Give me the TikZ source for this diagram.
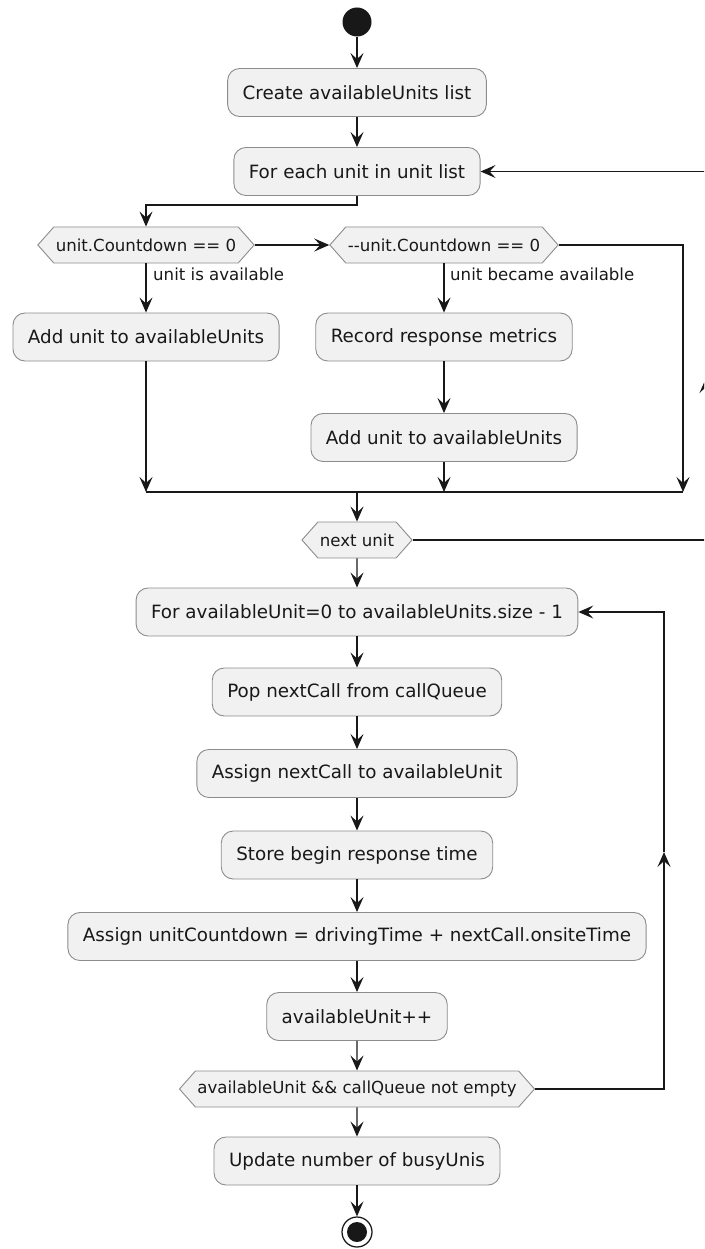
\documentclass[tikz,border=0pt]{standalone}
\usepackage{fontspec}
\setmainfont{DejaVu Sans}
\usetikzlibrary{arrows.meta,shapes.symbols,calc}

\definecolor{boxfill}{HTML}{F1F1F1}
\definecolor{boxline}{HTML}{8C8C8C}
\definecolor{ink}{HTML}{181818}

\begin{document}
\begin{tikzpicture}[
  x=1pt, y=-1pt,
  action/.style={rectangle, rounded corners=12pt, draw=boxline, fill=boxfill,
    line width=0.9pt, minimum height=48pt, inner xsep=15pt, text=ink,
    font=\fontsize{18.3}{22}\selectfont},
  decision/.style={signal, signal to=west and east, signal pointer angle=97,
    draw=boxline, fill=boxfill, line width=0.9pt, minimum height=36pt,
    inner xsep=2pt, inner ysep=0pt, text=ink, font=\fontsize{16.6}{20}\selectfont},
  flow/.style={draw=ink, line width=1.25pt, -{Stealth[length=15pt,width=13pt,inset=6pt]}},
  wire/.style={draw=ink, line width=1.25pt},
  lbl/.style={font=\fontsize{16.6}{20}\selectfont, anchor=west, inner sep=0pt, text=ink}
]
\useasboundingbox (0,0) rectangle (704,1249);
\clip (0,0) rectangle (704,1249);

% start / first loop
\node[circle, fill=ink, minimum size=29pt, inner sep=0pt] (start) at (357,22) {};
\node[action] (create) at (357,92.5) {Create availableUnits list};
\node[action] (foreach) at (357,171.5) {For each unit in unit list};

% countdown checks
\node[decision] (d1) at (146,245) {unit.Countdown == 0};
\node[decision] (d2) at (444,245) {{-}{-}unit.Countdown == 0};
\node[action] (add1) at (146,337) {Add unit to availableUnits};
\node[action] (record) at (444,337) {Record response metrics};
\node[action] (add2) at (444,437.5) {Add unit to availableUnits};
\node[lbl] (l1) at (153,274) {unit is available};
\node[lbl] (l2) at (450,274) {unit became available};

\coordinate (split) at (146,205);
\coordinate (m1) at (146,492);
\coordinate (m2) at (444,492);
\coordinate (m3) at (683,492);
\coordinate (mc) at (357,492);

\node[decision] (next) at (357,540) {next unit};

% dispatch loop
\node[action] (forav) at (357,612) {For availableUnit=0 to availableUnits.size - 1};
\node[action] (pop) at (357,692) {Pop nextCall from callQueue};
\node[action] (assign1) at (357,773.5) {Assign nextCall to availableUnit};
\node[action] (store) at (357,855) {Store begin response time};
\node[action] (assign2) at (357,936.5) {Assign unitCountdown = drivingTime + nextCall.onsiteTime};
\node[action] (inc) at (357,1016.5) {availableUnit++};
\node[decision] (d3) at (357,1089) {availableUnit \&\& callQueue not empty};
\node[action] (update) at (357,1161) {Update number of busyUnis};

% stop
\node[circle, draw=ink, line width=1.25pt, fill=white, minimum size=30pt, inner sep=0pt] (stop) at (357,1232) {};
\node[circle, fill=ink, minimum size=20pt, inner sep=0pt] (stopdot) at (stop) {};

% loop return points
\coordinate (oA) at (706,540);
\coordinate (oB) at (706,378);
\coordinate (oC) at (706,171.5);
\coordinate (iA) at (664,1089);
\coordinate (iB) at (664,852);
\coordinate (iC) at (664,612);

% connectors
\draw[flow] (start) -- (create);
\draw[flow] (create) -- (foreach);
\draw[flow] (foreach.south) |- (split) -- (d1.north);
\draw[flow] (d1.east) -- (d2.west);
\draw[flow] (d1.south) -- (add1.north);
\draw[flow] (d2.south) -- (record.north);
\draw[flow] (record) -- (add2);
\draw[flow] (add1.south) -- (m1);
\draw[flow] (add2.south) -- (m2);
\draw[flow] (d2.east) -| (m3);
\draw[wire] (m1) -- (m3);
\draw[flow] (mc) -- (next.north);
\draw[flow] (next.east) -- (oA) -- (oB);
\draw[flow] (oB) -- (oC) -- (foreach.east);

\draw[flow] (next) -- (forav);
\draw[flow] (forav) -- (pop);
\draw[flow] (pop) -- (assign1);
\draw[flow] (assign1) -- (store);
\draw[flow] (store) -- (assign2);
\draw[flow] (assign2) -- (inc);
\draw[flow] (inc) -- (d3);
\draw[flow] (d3) -- (update);
\draw[flow] (update) -- (stop);
\draw[flow] (d3.east) -- (iA) -- (iB);
\draw[flow] (iB) -- (iC) -- (forav.east);
\end{tikzpicture}
\end{document}
